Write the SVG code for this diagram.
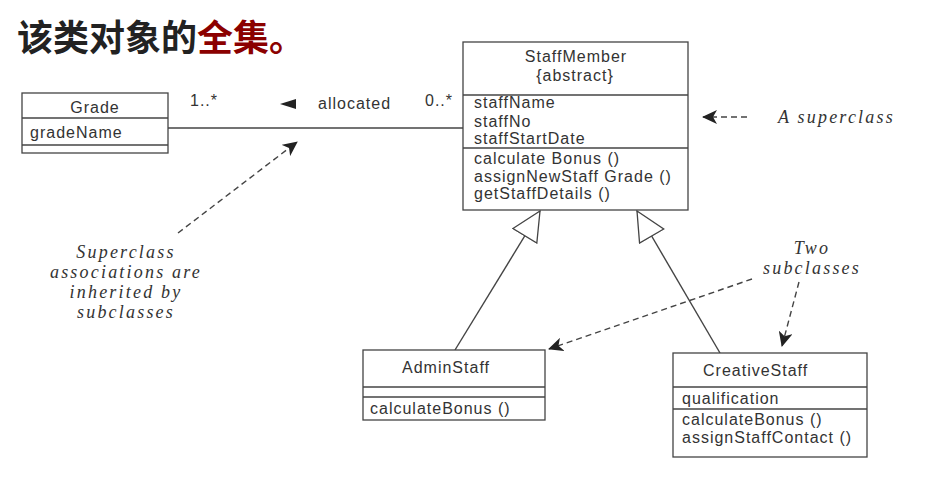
<svg xmlns="http://www.w3.org/2000/svg" width="948" height="478" viewBox="0 0 948 478">
<style>
.box{fill:#fff;stroke:#444;stroke-width:1.3}
.sep{stroke:#444;stroke-width:1.3}
.t{font-family:"Liberation Sans",Arial,sans-serif;font-size:16px;letter-spacing:1px;fill:#333}
.c{text-anchor:middle}
.n{font-family:"Liberation Serif","Times New Roman",serif;font-style:italic;font-size:18px;letter-spacing:2.2px;fill:#333}
.line{stroke:#444;stroke-width:1.4;fill:none}
.dash{stroke:#444;stroke-width:1.4;fill:none;stroke-dasharray:6 4}
.zh{font-family:"Noto Sans CJK SC",sans-serif;font-weight:bold;font-size:36px}
</style>
<defs>
<marker id="gen" markerWidth="32" markerHeight="30" refX="30" refY="15" orient="auto" markerUnits="userSpaceOnUse">
<path d="M1,1 L30,15 L1,29 Z" fill="#fff" stroke="#444" stroke-width="1.3"/>
</marker>
<marker id="arr" markerWidth="16" markerHeight="14" refX="14" refY="7" orient="auto" markerUnits="userSpaceOnUse">
<path d="M0,0 L15,7 L0,14 L4,7 Z" fill="#222"/>
</marker>
</defs>
<rect width="948" height="478" fill="#fff"/>
<text class="zh" x="17" y="51"><tspan fill="#222">该类对象的</tspan><tspan fill="#8b0000">全集。</tspan></text>

<g id="connectors">
<line class="line" x1="168" y1="128" x2="463" y2="128"/>
<polygon points="280,104 296,99 296,109" fill="#222"/>
<text class="t" x="190" y="106">1..*</text>
<text class="t" x="318" y="109">allocated</text>
<text class="t" x="425" y="106">0..*</text>
<line class="line" x1="455" y1="350" x2="540" y2="211" marker-end="url(#gen)"/>
<line class="line" x1="720" y1="353" x2="637" y2="211" marker-end="url(#gen)"/>
<line class="dash" x1="747" y1="117" x2="703" y2="117" marker-end="url(#arr)"/>
<line class="dash" x1="178" y1="233" x2="297" y2="142" marker-end="url(#arr)"/>
<line class="dash" x1="752" y1="279" x2="549" y2="349" marker-end="url(#arr)"/>
<line class="dash" x1="799" y1="282" x2="782" y2="346" marker-end="url(#arr)"/>
</g>

<g id="grade">
<rect class="box" x="22" y="93" width="146" height="60"/>
<line class="sep" x1="22" y1="118" x2="168" y2="118"/>
<line class="sep" x1="22" y1="145" x2="168" y2="145"/>
<text class="t c" x="95" y="113">Grade</text>
<text class="t" x="30" y="138">gradeName</text>
</g>

<g id="staffmember">
<rect class="box" x="463" y="42" width="225" height="168"/>
<line class="sep" x1="463" y1="95" x2="688" y2="95"/>
<line class="sep" x1="463" y1="148" x2="688" y2="148"/>
<text class="t c" x="576" y="62">StaffMember</text>
<text class="t c" x="575" y="81">{abstract}</text>
<text class="t" x="474" y="108">staffName</text>
<text class="t" x="474" y="127">staffNo</text>
<text class="t" x="474" y="144">staffStartDate</text>
<text class="t" x="474" y="164">calculate Bonus ()</text>
<text class="t" x="474" y="182">assignNewStaff Grade ()</text>
<text class="t" x="474" y="199">getStaffDetails ()</text>
</g>

<g id="adminstaff">
<rect class="box" x="363" y="350" width="182" height="70"/>
<line class="sep" x1="363" y1="387" x2="545" y2="387"/>
<line class="sep" x1="363" y1="397" x2="545" y2="397"/>
<text class="t c" x="446" y="373">AdminStaff</text>
<text class="t" x="370" y="414">calculateBonus ()</text>
</g>

<g id="creativestaff">
<rect class="box" x="673" y="353" width="194" height="104"/>
<line class="sep" x1="673" y1="387" x2="867" y2="387"/>
<line class="sep" x1="673" y1="409" x2="867" y2="409"/>
<text class="t" x="703" y="376">CreativeStaff</text>
<text class="t" x="682" y="404">qualification</text>
<text class="t" x="682" y="425">calculateBonus ()</text>
<text class="t" x="682" y="443">assignStaffContact ()</text>
</g>

<g id="notes">
<text class="n" x="778" y="123">A superclass</text>
<text class="n c" x="126" y="258">Superclass</text>
<text class="n c" x="126" y="278">associations are</text>
<text class="n c" x="126" y="298">inherited by</text>
<text class="n c" x="126" y="318">subclasses</text>
<text class="n c" x="812" y="254">Two</text>
<text class="n c" x="812" y="274">subclasses</text>
</g>
</svg>
